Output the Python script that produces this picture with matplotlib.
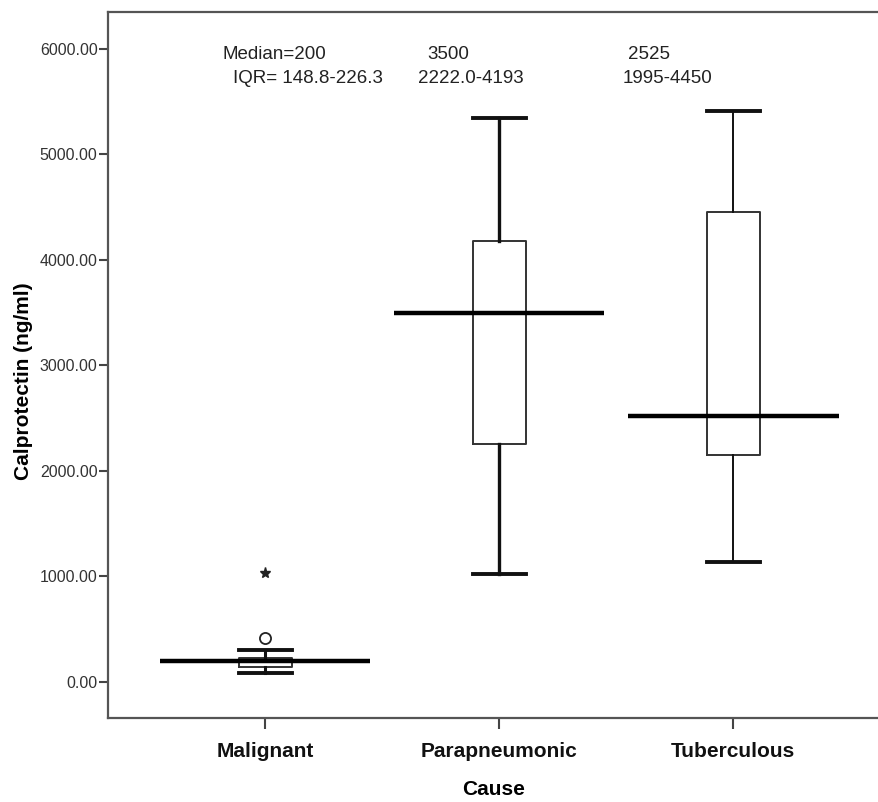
"""
Calprotectin by cause of pleural effusion, SPSS-style boxplot.
"""

import matplotlib
matplotlib.use("Agg")
import matplotlib.pyplot as plt

plt.rcParams["font.family"] = ["Liberation Sans", "DejaVu Sans"]

categories = ["Malignant", "Parapneumonic", "Tuberculous"]
whisker_low = [85, 1028, 1140]
q1 = [138, 2258, 2154]
medians = [200, 3500, 2525]
q3 = [227, 4175, 4450]
whisker_high = [303, 5339, 5406]
outliers_circle = [[416], [], []]
outliers_star = [[1031], [], []]

median_labels = ["Median=200", "3500", "2525"]
iqr_labels = ["IQR= 148.8-226.3", "2222.0-4193", "1995-4450"]
yticks = [0, 1000, 2000, 3000, 4000, 5000, 6000]


def main():
    fig = plt.figure(figsize=(8.79, 8.02), dpi=100)
    ax = fig.add_axes([108 / 879, 1 - 718 / 802, 1 - 108 / 879, (718 - 12) / 802])

    stats = []
    for i, name in enumerate(categories):
        stats.append(dict(label=name, whislo=whisker_low[i], q1=q1[i], med=medians[i],
                          q3=q3[i], whishi=whisker_high[i], fliers=outliers_circle[i]))
    pos = list(range(len(categories)))
    art = ax.bxp(stats, positions=pos, widths=0.227, capwidths=0.227,
                 boxprops=dict(color="#333333", linewidth=1.4),
                 whiskerprops=dict(color="#111111", linewidth=2.0),
                 capprops=dict(color="#111111", linewidth=2.8),
                 medianprops=dict(visible=False),
                 flierprops=dict(marker="o", markerfacecolor="white",
                                 markeredgecolor="#222222", markersize=8, markeredgewidth=1.3))

    # whisker thickness differs a bit per group in the original
    whisk_lw = [2.2, 2.4, 1.4]
    for i, lw in enumerate(whisk_lw):
        art["whiskers"][2 * i].set_linewidth(lw)
        art["whiskers"][2 * i + 1].set_linewidth(lw)

    # wide median bars
    ax.hlines(medians, [p - 0.45 for p in pos], [p + 0.45 for p in pos],
              color="black", linewidth=3.2, zorder=3)

    for i, vals in enumerate(outliers_star):
        if vals:
            ax.plot([pos[i]] * len(vals), vals, marker="*", linestyle="none",
                    color="#222222", markersize=8)

    # annotations above the boxes
    med_x = [-0.181, 0.694, 1.551]
    iqr_x = [-0.139, 0.655, 1.526]
    for i in range(len(categories)):
        ax.text(med_x[i], 5902, median_labels[i], fontsize=13.5, color="#222222",
                ha="left", va="baseline")
        ax.text(iqr_x[i], 5675, iqr_labels[i], fontsize=13.5, color="#222222",
                ha="left", va="baseline")

    ax.set_xlim(-0.671, (879 - 264.5) / 234.3)
    ax.set_ylim(-341, 6348)
    ax.set_yticks(yticks)
    ax.set_yticklabels([f"{v:.2f}" for v in yticks])
    ax.set_xticks(pos)
    ax.set_xticklabels(categories, fontweight="bold", fontsize=15)

    ax.tick_params(axis="y", length=6.5, width=1.5, color="#444444",
                   labelsize=11.5, labelcolor="#333333", pad=1)
    ax.tick_params(axis="x", length=8, width=1.5, color="#444444",
                   labelcolor="#111111", pad=9)

    for side in ["left", "bottom", "top"]:
        ax.spines[side].set_linewidth(1.6)
        ax.spines[side].set_color("#555555")
    ax.spines["right"].set_visible(False)

    ax.set_ylabel("Calprotectin (ng/ml)", fontsize=15, fontweight="bold")
    ax.yaxis.set_label_coords(-0.097, 0.477)
    ax.set_xlabel("Cause", fontsize=15, fontweight="bold", labelpad=14)

    fig.savefig("out.png", dpi=100)


if __name__ == "__main__":
    main()
